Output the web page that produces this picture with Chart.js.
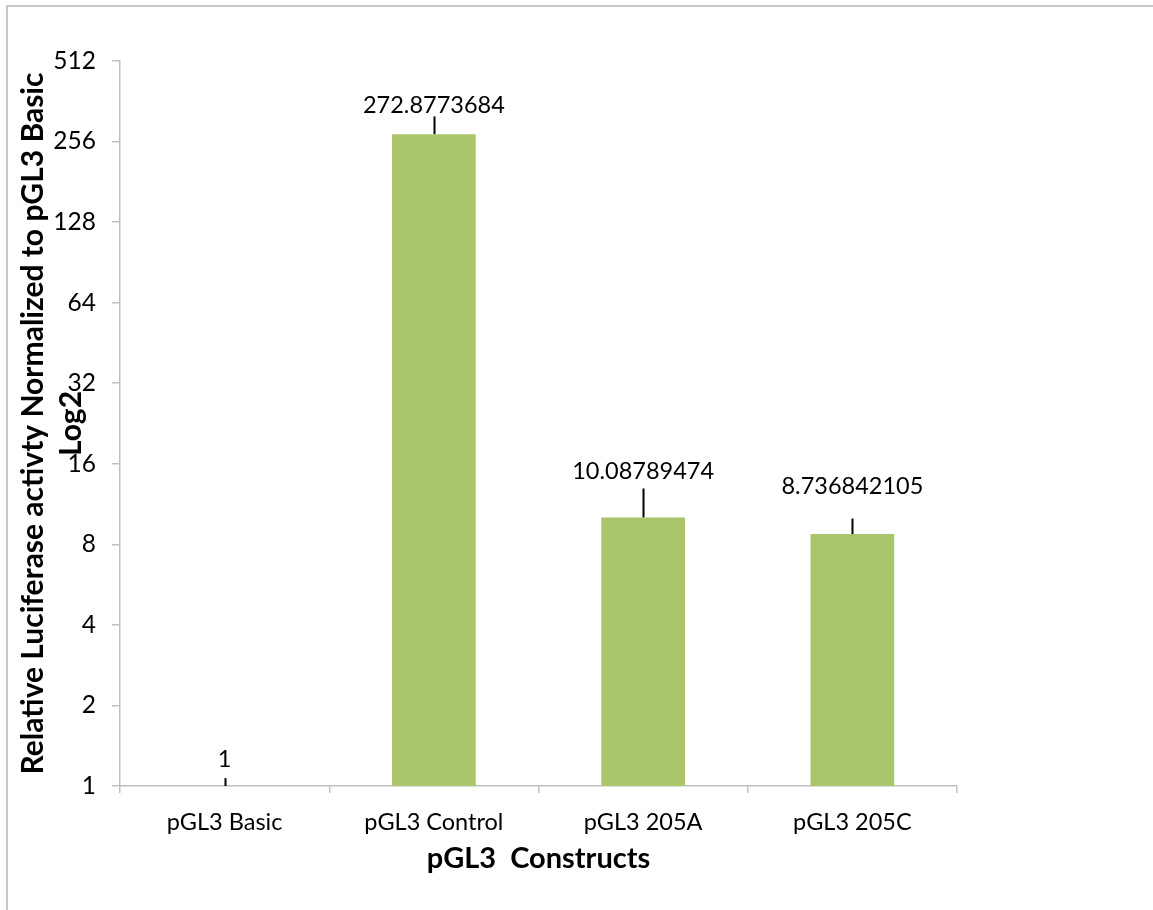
<!DOCTYPE html>
<html>
<head>
<meta charset="utf-8">
<script src="https://cdn.jsdelivr.net/npm/chart.js@4/dist/chart.umd.min.js"></script>
<style>
  html, body { margin: 0; padding: 0; background: #fff; }
  #wrap { position: relative; width: 1153px; height: 910px; }
</style>
</head>
<body>
<div id="wrap"><canvas id="c" width="1153" height="910"></canvas></div>
<script>
// Constructs tested and their luciferase activity relative to pGL3 Basic
const constructs = ['pGL3 Basic', 'pGL3 Control', 'pGL3 205A', 'pGL3 205C'];
const relativeActivity = [1, 272.8773684, 10.08789474, 8.736842105];
// Upper error (standard deviation) for each construct
const errorPlus = [0.07, 44.8, 2.85, 1.25];
// Log2 axis tick values
const yTicks = [1, 2, 4, 8, 16, 32, 64, 128, 256, 512];

// Extra lift (px) of each value label above its error-bar cap
const labelLift = [19, 11, 17, 32];

const FONT = 'Lato, "Open Sans", sans-serif';

const frame = {
  id: 'frame',
  beforeDraw(chart) {
    const ctx = chart.ctx;
    ctx.save();
    ctx.fillStyle = '#fff';
    ctx.fillRect(0, 0, chart.width, chart.height);
    ctx.strokeStyle = '#c8c8c8';
    ctx.lineWidth = 2;
    ctx.beginPath();
    ctx.moveTo(7, chart.height);
    ctx.lineTo(7, 6);
    ctx.lineTo(chart.width, 6);
    ctx.stroke();
    ctx.restore();
  }
};

const errorBars = {
  id: 'errorBars',
  afterDatasetsDraw(chart) {
    const ctx = chart.ctx;
    const meta = chart.getDatasetMeta(0);
    const y = chart.scales.y;
    ctx.save();
    ctx.strokeStyle = '#000';
    ctx.lineWidth = 2;
    ctx.fillStyle = '#000';
    ctx.font = '23.5px ' + FONT;
    ctx.textAlign = 'center';
    ctx.textBaseline = 'middle';
    meta.data.forEach((bar, i) => {
      const v = relativeActivity[i];
      const yBase = y.getPixelForValue(v);
      const yTop = y.getPixelForValue(v + errorPlus[i]);
      ctx.beginPath();
      ctx.moveTo(Math.round(bar.x) + 0.5, yBase);
      ctx.lineTo(Math.round(bar.x) + 0.5, yTop);
      ctx.stroke();
      ctx.fillText(String(v), bar.x, yTop - labelLift[i]);
    });
    ctx.restore();
  }
};

new Chart(document.getElementById('c'), {
  type: 'bar',
  data: {
    labels: constructs,
    datasets: [{
      data: relativeActivity,
      backgroundColor: '#abc56d',
      borderWidth: 0,
      barPercentage: 0.4,
      categoryPercentage: 1.0
    }]
  },
  options: {
    responsive: false,
    animation: false,
    layout: { padding: { left: 0, top: 61, right: 196, bottom: 0 } },
    plugins: { legend: { display: false }, tooltip: { enabled: false } },
    scales: {
      x: {
        offset: true,
        grid: { offset: true, drawOnChartArea: false, drawTicks: true, tickLength: 7, color: '#bfbfbf', lineWidth: 1.5 },
        border: { color: '#bfbfbf', width: 1.5 },
        ticks: { color: '#000', font: { family: FONT, size: 23.5 }, padding: 15 },
        title: {
          display: true,
          text: 'pGL3  Constructs',
          color: '#000',
          font: { family: FONT, size: 29, weight: 'bold' },
          padding: { top: 6, bottom: 34 }
        },
        afterFit(s) { s.height = 124; }
      },
      y: {
        type: 'logarithmic',
        min: 1,
        max: 512,
        afterBuildTicks(s) { s.ticks = yTicks.map(v => ({ value: v })); },
        grid: { drawOnChartArea: false, drawTicks: true, tickLength: 8, color: '#bfbfbf', lineWidth: 1.5 },
        border: { color: '#bfbfbf', width: 1.5 },
        ticks: {
          color: '#000',
          font: { family: FONT, size: 24.5 },
          padding: 16,
          callback: v => String(v)
        },
        title: {
          display: true,
          text: ['Relative Luciferase activty Normalized to pGL3 Basic', 'Log2'],
          color: '#000',
          font: { family: FONT, size: 30, weight: 'bold', lineHeight: '38px' },
          padding: { top: 14, bottom: 0 }
        },
        afterFit(s) { s.width = 120; }
      }
    }
  },
  plugins: [frame, errorBars]
});
</script>
</body>
</html>
